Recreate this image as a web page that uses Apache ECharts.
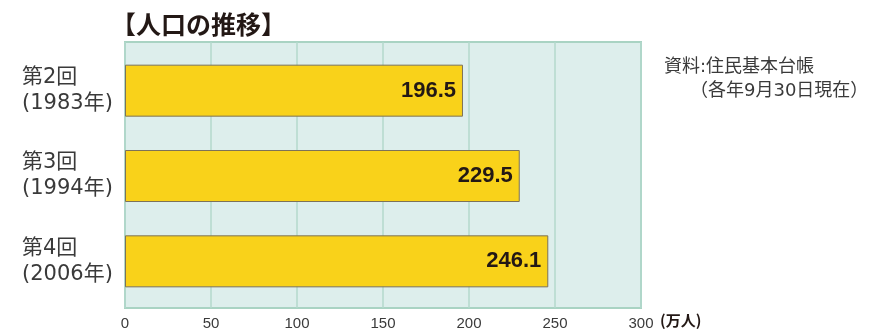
<!DOCTYPE html>
<html>
<head>
<meta charset="utf-8">
<style>
  html, body { margin: 0; padding: 0; background: #ffffff; }
  #chart { width: 882px; height: 335px; }
</style>
<script src="https://cdn.jsdelivr.net/npm/echarts@6/dist/echarts.min.js"></script>
</head>
<body>
<div id="chart"></div>
<script>
// Census rounds and population (unit: 10,000 people)
const rounds = ['第2回', '第3回', '第4回'];
const years = ['(1983年)', '(1994年)', '(2006年)'];
const population = [196.5, 229.5, 246.1];
const xTicks = [0, 50, 100, 150, 200, 250, 300];

const CJK = '"DejaVu Sans", "Noto Sans CJK JP", sans-serif';
const NUMFONT = '"Liberation Sans", Arial, sans-serif';

const xMin = xTicks[0];
const xMax = xTicks[xTicks.length - 1];

const chart = echarts.init(document.getElementById('chart'));
chart.setOption({
  backgroundColor: '#ffffff',
  animation: false,
  title: {
    text: '【人口の推移】',
    left: 106,
    top: 7,
    textStyle: { fontFamily: '"Noto Sans CJK JP", sans-serif', fontSize: 25, fontWeight: 'bold', color: '#231815' }
  },
  grid: [
    // plot frame with the value scale
    {
      left: 125, right: 241, top: 42, bottom: 27,
      show: true,
      backgroundColor: '#ddeeec',
      borderColor: '#a9d3c3',
      borderWidth: 2
    },
    // bar band, slightly inset vertically inside the frame
    { left: 125, right: 241, top: 48, bottom: 31 }
  ],
  xAxis: [
    {
      gridIndex: 0,
      type: 'value',
      min: xMin, max: xMax, interval: 50,
      axisLine: { show: false },
      axisTick: { show: false },
      splitLine: { lineStyle: { color: '#b3d8cc', width: 1.5 } },
      axisLabel: { margin: 8, fontFamily: NUMFONT, fontSize: 15, color: '#3a3a3a' }
    },
    {
      gridIndex: 1,
      type: 'value',
      min: xMin, max: xMax, interval: 50,
      show: false
    }
  ],
  yAxis: [
    { gridIndex: 0, type: 'value', show: false },
    {
      gridIndex: 1,
      type: 'category',
      inverse: true,
      data: rounds.map((r, i) => r + '\n' + years[i]),
      axisLine: { show: false },
      axisTick: { show: false },
      splitLine: { show: false },
      axisLabel: {
        align: 'left',
        margin: 103,
        fontFamily: CJK,
        fontSize: 21,
        lineHeight: 26,
        color: '#3a3a3a'
      }
    }
  ],
  series: [{
    type: 'bar',
    xAxisIndex: 1,
    yAxisIndex: 1,
    data: population,
    barWidth: 52,
    itemStyle: {
      color: '#f9d21a',
      borderColor: '#7d7258',
      borderWidth: 1
    },
    label: {
      show: true,
      position: 'insideRight',
      distance: 7,
      formatter: p => p.value.toFixed(1),
      fontFamily: NUMFONT,
      fontSize: 22,
      fontWeight: 'bold',
      color: '#231815'
    }
  }],
  graphic: [
    {
      type: 'text', left: 660, top: 313,
      style: { text: '(万人)', fontFamily: '"Noto Sans CJK JP", sans-serif', fontSize: 15, fontWeight: 'bold', fill: '#231815' }
    },
    {
      type: 'text', left: 664, top: 58,
      style: { text: '資料:住民基本台帳', fontFamily: CJK, fontSize: 18, fill: '#3a3a3a' }
    },
    {
      type: 'text', left: 690, top: 82,
      style: { text: '（各年9月30日現在）', fontFamily: CJK, fontSize: 18, fill: '#3a3a3a' }
    }
  ]
});
</script>
</body>
</html>
